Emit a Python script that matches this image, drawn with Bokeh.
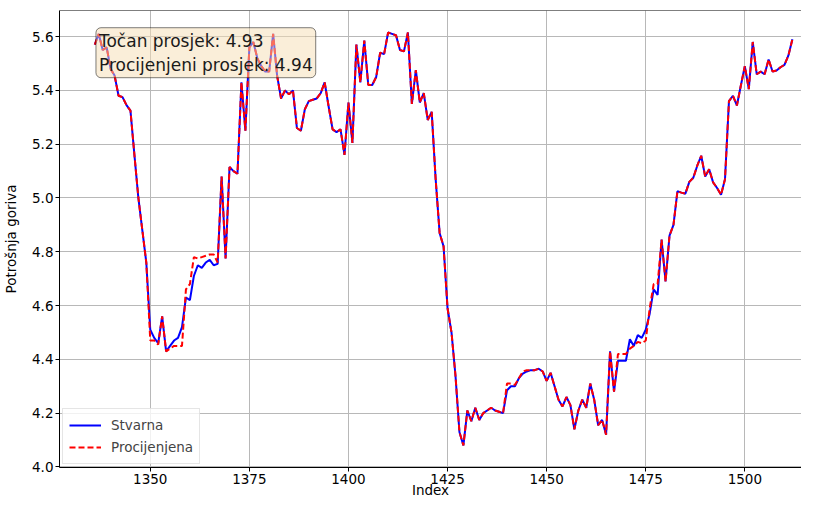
from bokeh.plotting import figure
from bokeh.models import (Range1d, FixedTicker, Label, Legend, LegendItem, Span,
                          ColumnDataSource)
from bokeh.embed import file_html
from bokeh.resources import INLINE

# ---------------- data ----------------
index_start = 1336

actual = [
    5.57, 5.61, 5.55, 5.56, 5.48, 5.455, 5.38, 5.375, 5.345, 5.325,
    5.16, 5.00, 4.88, 4.76, 4.51, 4.48, 4.46, 4.56, 4.43, 4.45,
    4.47, 4.48, 4.52, 4.63, 4.62, 4.71, 4.75, 4.74, 4.76, 4.77,
    4.75, 4.755, 5.08, 4.775, 5.115, 5.10, 5.09, 5.43, 5.25, 5.56,
    5.58, 5.52, 5.49, 5.47, 5.47, 5.61, 5.455, 5.37, 5.40, 5.385,
    5.40, 5.26, 5.25, 5.33, 5.36, 5.365, 5.37, 5.39, 5.43, 5.34,
    5.255, 5.245, 5.255, 5.16, 5.355, 5.205, 5.57, 5.43, 5.585, 5.42,
    5.42, 5.45, 5.54, 5.535, 5.615, 5.61, 5.605, 5.55, 5.545, 5.615,
    5.35, 5.475, 5.355, 5.39, 5.29, 5.32, 5.07, 4.87, 4.82, 4.59,
    4.50, 4.34, 4.13, 4.08, 4.21, 4.17, 4.22, 4.175, 4.20, 4.21,
    4.22, 4.21, 4.205, 4.20, 4.285, 4.30, 4.30, 4.33, 4.347, 4.355,
    4.36, 4.36, 4.365, 4.355, 4.32, 4.35, 4.30, 4.25, 4.225, 4.26,
    4.23, 4.14, 4.21, 4.25, 4.22, 4.31, 4.25, 4.155, 4.175, 4.12,
    4.43, 4.28, 4.395, 4.395, 4.395, 4.475, 4.45, 4.49, 4.48, 4.51,
    4.57, 4.66, 4.64, 4.845, 4.69, 4.86, 4.90, 5.025, 5.02, 5.016,
    5.06, 5.075, 5.12, 5.157, 5.08, 5.107, 5.058, 5.037, 5.012, 5.07,
    5.36, 5.38, 5.344, 5.418, 5.49, 5.405, 5.58, 5.46, 5.47, 5.46,
    5.515, 5.47, 5.474, 5.486, 5.495, 5.53, 5.59,
]

predicted = [
    5.57, 5.61, 5.55, 5.56, 5.48, 5.455, 5.38, 5.375, 5.345, 5.325,
    5.16, 5.00, 4.88, 4.76, 4.47, 4.47, 4.455, 4.56, 4.43, 4.44,
    4.45, 4.45, 4.45, 4.66, 4.68, 4.78, 4.775, 4.78, 4.785, 4.79,
    4.79, 4.76, 5.08, 4.775, 5.115, 5.10, 5.09, 5.43, 5.25, 5.56,
    5.58, 5.52, 5.49, 5.47, 5.47, 5.61, 5.455, 5.37, 5.40, 5.385,
    5.40, 5.26, 5.25, 5.33, 5.36, 5.365, 5.37, 5.39, 5.43, 5.34,
    5.255, 5.245, 5.255, 5.16, 5.355, 5.205, 5.57, 5.43, 5.585, 5.42,
    5.42, 5.45, 5.54, 5.535, 5.615, 5.61, 5.605, 5.55, 5.545, 5.615,
    5.35, 5.475, 5.355, 5.39, 5.29, 5.32, 5.07, 4.87, 4.82, 4.59,
    4.50, 4.34, 4.13, 4.08, 4.21, 4.17, 4.22, 4.175, 4.20, 4.21,
    4.22, 4.21, 4.205, 4.20, 4.31, 4.31, 4.305, 4.33, 4.355, 4.36,
    4.36, 4.36, 4.365, 4.355, 4.32, 4.35, 4.30, 4.25, 4.225, 4.26,
    4.23, 4.14, 4.21, 4.25, 4.22, 4.31, 4.25, 4.155, 4.175, 4.12,
    4.43, 4.28, 4.42, 4.42, 4.42, 4.44, 4.45, 4.465, 4.46, 4.47,
    4.59, 4.68, 4.68, 4.845, 4.69, 4.86, 4.90, 5.025, 5.02, 5.016,
    5.06, 5.075, 5.12, 5.157, 5.08, 5.107, 5.058, 5.037, 5.012, 5.07,
    5.36, 5.38, 5.344, 5.418, 5.49, 5.405, 5.58, 5.46, 5.47, 5.46,
    5.515, 5.47, 5.474, 5.486, 5.495, 5.53, 5.59,
]

index = list(range(index_start, index_start + len(actual)))

x_ticks = [1350, 1375, 1400, 1425, 1450, 1475, 1500]
x_tick_labels = ["1350", "1375", "1400", "1425", "1450", "1475", "1500"]
y_ticks = [4.0, 4.2, 4.4, 4.6, 4.8, 5.0, 5.2, 5.4, 5.6]
y_tick_labels = ["4.0", "4.2", "4.4", "4.6", "4.8", "5.0", "5.2", "5.4", "5.6"]

legend_labels = ["Stvarna", "Procijenjena"]
summary_lines = ["Točan prosjek: 4.93", "Procijenjeni prosjek: 4.94"]
x_label = "Index"
y_label = "Potrošnja goriva"

# ---------------- figure ----------------
FONT = "DejaVu Sans"
X0, X1 = 1327.1, 1514.3
Y0, Y1 = 3.998, 5.697

src = ColumnDataSource(dict(index=index, actual=actual, predicted=predicted))

p = figure(width=801, height=500, output_backend="svg", toolbar_location=None,
           x_range=Range1d(X0, X1), y_range=Range1d(Y0, Y1),
           min_border_left=57, min_border_right=0, min_border_top=10,
           min_border_bottom=10)
p.outline_line_color = None
p.background_fill_color = "white"
p.border_fill_color = "white"

for ax in (p.xaxis[0], p.yaxis[0]):
    ax.axis_line_color = "black"
    ax.axis_line_width = 1
    ax.major_tick_line_color = "black"
    ax.major_tick_in = 0
    ax.major_tick_out = 4
    ax.minor_tick_line_color = None
    ax.major_label_text_font = FONT
    ax.major_label_text_font_size = "13.5px"
    ax.major_label_text_color = "black"
    ax.axis_label_text_font = FONT
    ax.axis_label_text_font_size = "13.5px"
    ax.axis_label_text_font_style = "normal"
    ax.axis_label_text_color = "black"

p.xaxis.ticker = FixedTicker(ticks=x_ticks)
p.xaxis.major_label_overrides = dict(zip(x_ticks, x_tick_labels))
p.yaxis.ticker = FixedTicker(ticks=y_ticks)
p.yaxis.major_label_overrides = dict(zip(y_ticks, y_tick_labels))
p.xaxis.major_label_standoff = 2
p.yaxis.major_label_standoff = 2
p.xaxis.axis_label = x_label
p.yaxis.axis_label = y_label
p.xaxis.axis_label_standoff = -5
p.yaxis.axis_label_standoff = 10

p.xgrid.ticker = FixedTicker(ticks=x_ticks)
p.ygrid.ticker = FixedTicker(ticks=y_ticks)
p.xgrid.grid_line_color = "#b8b8b8"
p.ygrid.grid_line_color = "#b8b8b8"
p.xgrid.grid_line_width = 1
p.ygrid.grid_line_width = 1

# top spine
p.add_layout(Span(location=Y1, dimension="width", line_color="black", line_width=1))

r_act = p.line("index", "actual", source=src, line_color="blue", line_width=2)
r_pred = p.line("index", "predicted", source=src, line_color="red", line_width=2,
                line_dash="6 3")

legend = Legend(items=[LegendItem(label=legend_labels[0], renderers=[r_act]),
                       LegendItem(label=legend_labels[1], renderers=[r_pred])],
                location="bottom_left")
legend.label_text_font = FONT
legend.label_text_font_size = "13.5px"
legend.glyph_width = 32
legend.glyph_height = 20
legend.label_height = 20
legend.label_standoff = 10
legend.spacing = 2
legend.padding = 6
legend.margin = 3
legend.border_line_color = "#cccccc"
legend.border_line_width = 1
legend.background_fill_color = "white"
legend.background_fill_alpha = 0.8
p.add_layout(legend)

box = Label(x=1336.3, y=5.633, anchor="top_left",
            text="\n".join(summary_lines),
            text_font=FONT, text_font_size="17px", text_color="#1a1a1a",
            background_fill_color="wheat", background_fill_alpha=0.5,
            border_line_color="black", border_line_alpha=0.5, border_line_width=1,
            padding=3, border_radius=5)
p.add_layout(box)

open("out.html", "w").write(file_html(p, INLINE))
